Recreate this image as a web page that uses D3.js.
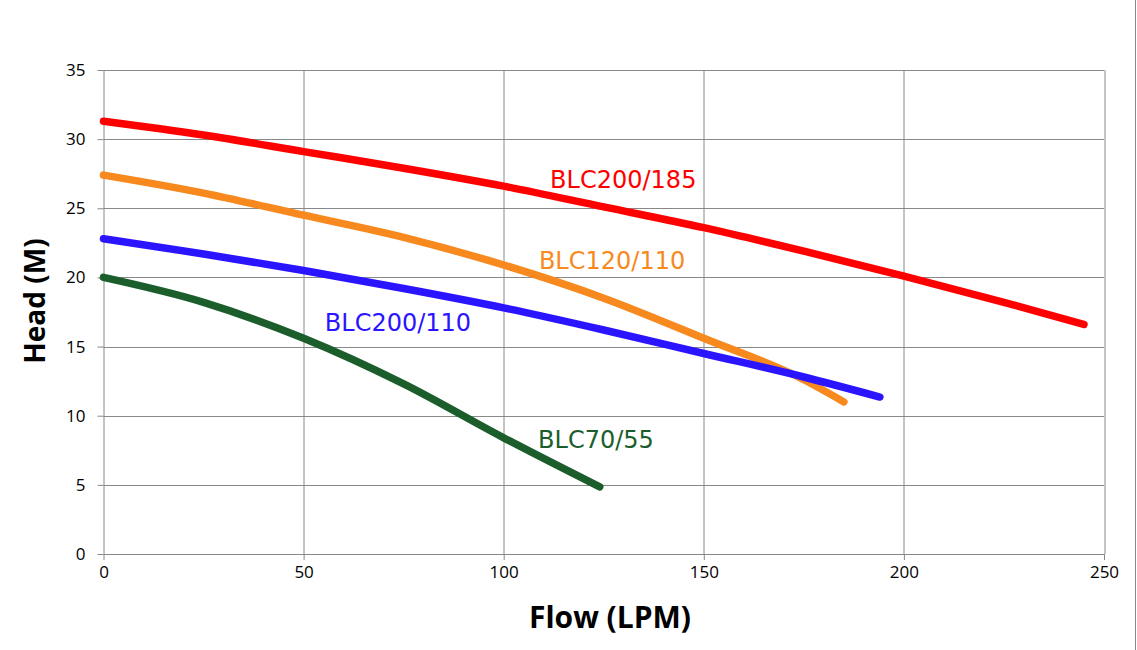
<!DOCTYPE html>
<html>
<head>
<meta charset="utf-8">
<script src="https://cdn.jsdelivr.net/npm/d3@7"></script>
<style>
  body { margin: 0; background: #fff; }
  svg text { font-family: "Open Sans", "Liberation Sans", sans-serif; }
</style>
</head>
<body>
<div id="chart"></div>
<script>
// pump curves, flow (LPM) vs head (M)
var xTicks = [0, 50, 100, 150, 200, 250];
var yTicks = [0, 5, 10, 15, 20, 25, 30, 35];

var flowRed = [0, 25, 50, 75, 100, 125, 150, 175, 200, 225, 245];
var headRed = [31.3, 30.3, 29.1, 27.9, 26.6, 25.1, 23.6, 21.9, 20.1, 18.2, 16.6];

var flowOrange = [0, 25, 50, 75, 100, 125, 150, 175, 185];
var headOrange = [27.4, 26.1, 24.5, 22.9, 20.9, 18.5, 15.6, 12.6, 11.0];

var flowBlue = [0, 25, 50, 75, 100, 125, 150, 175, 194];
var headBlue = [22.8, 21.7, 20.5, 19.2, 17.8, 16.2, 14.5, 12.8, 11.35];

var flowGreen = [0, 25, 50, 75, 100, 124];
var headGreen = [20.0, 18.2, 15.6, 12.3, 8.4, 4.85];

var seriesNames = ["BLC200/185", "BLC120/110", "BLC200/110", "BLC70/55"];
var seriesColors = ["#ff0000", "#f7891f", "#2b14ff", "#1b5e2b"];
var seriesFlows = [flowRed, flowOrange, flowBlue, flowGreen];
var seriesHeads = [headRed, headOrange, headBlue, headGreen];
// label anchor points in data units
var labelFlow = [111.6, 108.8, 55.3, 108.6];
var labelHead = [26.45, 20.6, 16.1, 7.65];

var width = 1137, height = 650;
var margin = {top: 70, right: 33, bottom: 96, left: 103.5};
var innerW = 1104 - margin.left, innerH = 554 - margin.top;

var svg = d3.select("#chart").append("svg")
    .attr("width", width)
    .attr("height", height);

// outer chart border at right edge
svg.append("line")
    .attr("x1", 1135.5).attr("x2", 1135.5)
    .attr("y1", 0).attr("y2", height)
    .attr("stroke", "#888").attr("stroke-width", 1);

var g = svg.append("g")
    .attr("transform", "translate(" + margin.left + "," + margin.top + ")");

var x = d3.scaleLinear().domain([0, 250]).range([0, innerW]);
var y = d3.scaleLinear().domain([0, 35]).range([innerH, 0]);

// gridlines
g.selectAll(".vgrid").data(xTicks).enter().append("line")
    .attr("x1", function(d) { return Math.round(x(d)) + 0.5; })
    .attr("x2", function(d) { return Math.round(x(d)) + 0.5; })
    .attr("y1", 0).attr("y2", innerH)
    .attr("stroke", "#888").attr("stroke-width", 1);

g.selectAll(".hgrid").data(yTicks).enter().append("line")
    .attr("x1", 0).attr("x2", innerW)
    .attr("y1", function(d) { return Math.round(y(d)) + 0.5; })
    .attr("y2", function(d) { return Math.round(y(d)) + 0.5; })
    .attr("stroke", "#888").attr("stroke-width", 1);

// axes
var xAxis = d3.axisBottom(x).tickValues(xTicks).tickSize(6).tickPadding(6);
var yAxis = d3.axisLeft(y).tickValues(yTicks).tickSize(6).tickPadding(12);

var gx = g.append("g").attr("transform", "translate(0," + innerH + ")").call(xAxis);
var gy = g.append("g").call(yAxis);
[gx, gy].forEach(function(a) {
    a.select(".domain").remove();
    a.selectAll("line").attr("stroke", "#888");
    a.selectAll("text")
        .attr("fill", "#000")
        .style("font-size", "17px")
        .style("font-family", "'Open Sans', sans-serif");
});

// curves
var line = d3.line()
    .x(function(d) { return x(d[0]); })
    .y(function(d) { return y(d[1]); })
    .curve(d3.curveMonotoneX);

seriesNames.forEach(function(name, i) {
    var pts = d3.zip(seriesFlows[i], seriesHeads[i]);
    g.append("path")
        .datum(pts)
        .attr("d", line)
        .attr("fill", "none")
        .attr("stroke", seriesColors[i])
        .attr("stroke-width", 7.5)
        .attr("stroke-linecap", "round")
        .attr("stroke-linejoin", "round");

    g.append("text")
        .attr("x", x(labelFlow[i]))
        .attr("y", y(labelHead[i]))
        .attr("fill", seriesColors[i])
        .style("font-family", "'DejaVu Sans', Verdana, sans-serif")
        .style("font-size", "24px")
        .text(name);
});

// axis titles
svg.append("text")
    .attr("x", 610).attr("y", 628)
    .attr("text-anchor", "middle")
    .style("font-size", "30px")
    .style("font-weight", "bold")
    .text("Flow (LPM)");

svg.append("text")
    .attr("transform", "translate(45," + 301 + ") rotate(-90)")
    .attr("text-anchor", "middle")
    .style("font-size", "28px")
    .style("font-weight", "bold")
    .text("Head (M)");
</script>
</body>
</html>
